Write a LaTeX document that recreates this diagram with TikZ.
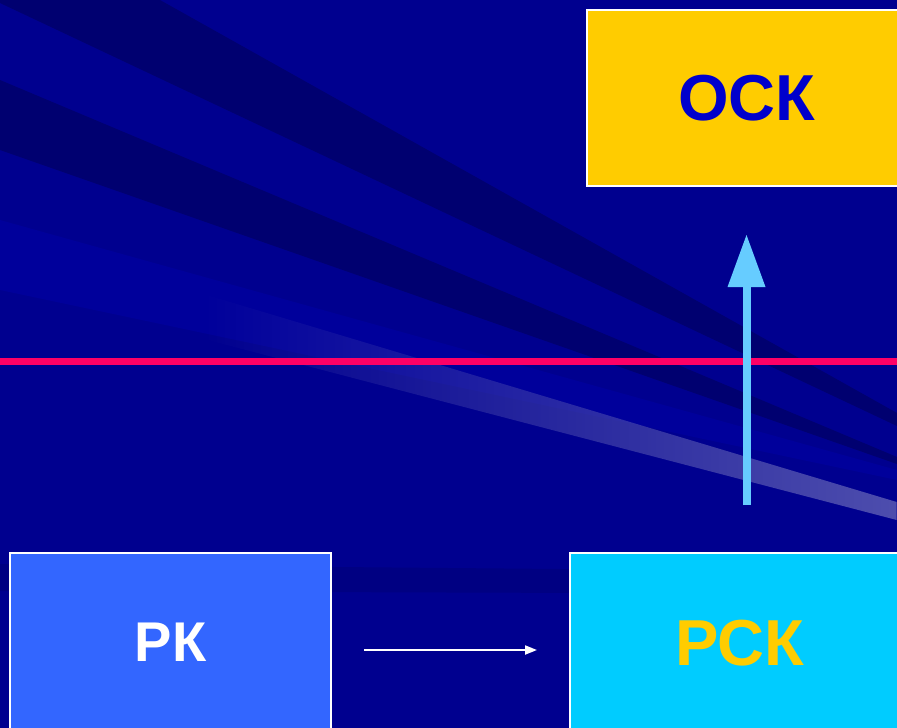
\documentclass[tikz,border=0pt]{standalone}
\usepackage{fontspec}
\setmainfont{Liberation Sans}
\usetikzlibrary{arrows.meta,calc,fadings}
\definecolor{bgblue}{HTML}{00008F}
\definecolor{darkband}{HTML}{000070}
\definecolor{lightband}{HTML}{00009B}
\definecolor{glowband}{HTML}{4E4EAE}
\definecolor{hband}{HTML}{000082}
\definecolor{pkfill}{HTML}{3366FF}
\definecolor{rskfill}{HTML}{00CCFF}
\definecolor{oskfill}{HTML}{FFCC00}
\definecolor{oskText}{HTML}{0000CC}
\definecolor{redline}{HTML}{FF0066}
\definecolor{uparrow}{HTML}{66CCFF}
\tikzset{
  boxnode/.style={draw=white, line width=2pt, inner sep=0pt, font=\bfseries},
}
\begin{document}
\begin{tikzpicture}[x=1pt,y=-1pt]
\useasboundingbox (0,0) rectangle (897,728);
\clip (0,0) rectangle (897,728);
% background
\fill[bgblue] (0,0) rectangle (897,728);
\fill[lightband] (0,220) -- (897,470) -- (897,480) -- (0,290) -- cycle;
\fill[darkband] (0,0) -- (160,0) -- (897,413) -- (897,426) -- (0,3) -- cycle;
\fill[darkband] (0,80) -- (897,457) -- (897,464) -- (0,150) -- cycle;
\fill[glowband, path fading=west] (200,293) -- (897,502) -- (897,520) -- (200,338) -- cycle;
\fill[hband] (0,564) -- (897,572) -- (897,594) -- (0,591) -- cycle;
% red line
\coordinate (rl) at (0,361.5);
\coordinate (rr) at (897,361.5);
\draw[redline, line width=7pt] (rl) -- (rr);
% boxes
\node[boxnode, fill=oskfill, text=oskText, minimum width=320pt, minimum height=176pt, font=\fontsize{65}{70}\bfseries\selectfont] (osk) at (747,98) {ОСК};
\node[boxnode, fill=pkfill, text=white, minimum width=321pt, minimum height=178pt, font=\fontsize{56}{60}\bfseries\selectfont] (pk) at (170.5,642) {РК};
\node[boxnode, fill=rskfill, text=oskfill, minimum width=340pt, minimum height=180pt, font=\fontsize{65}{70}\bfseries\selectfont] (rsk) at (740,643) {РСК};
% connectors
\draw[white, line width=2pt, -{Triangle[length=12pt,width=9pt]}] ($(pk.east)+(32,8)$) -- ($(rsk.west)+(-32,7)$);
\draw[uparrow, line width=8pt, -{Triangle[length=52pt,width=38pt,line width=0pt]}] ($(rsk.north)+(6.5,-47)$) -- ($(osk.south)+(-0.5,48)$);
\end{tikzpicture}
\end{document}
